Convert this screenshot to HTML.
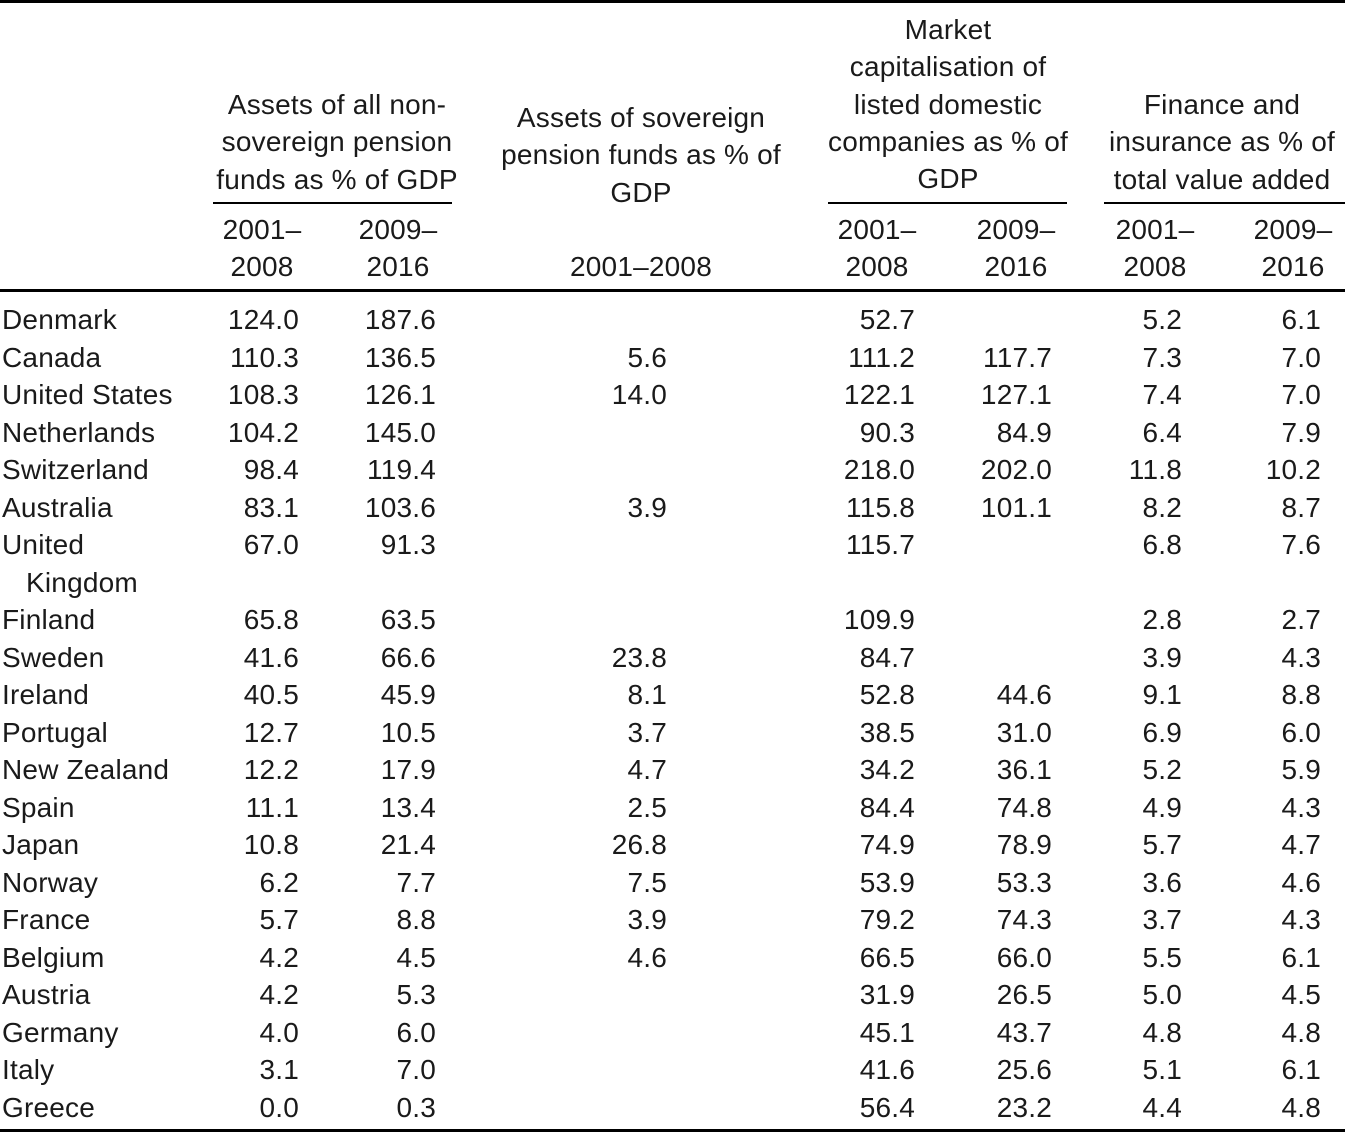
<!DOCTYPE html>
<html><head><meta charset="utf-8"><style>
body{margin:0;width:1345px;height:1134px;background:#fff;position:relative;overflow:hidden;font-family:"Liberation Sans",sans-serif;font-size:28px;letter-spacing:0.2px;color:#1a1a1a}
.l{position:absolute;background:#000}
.c{position:absolute;text-align:center;line-height:37.3px;white-space:nowrap}
.r{position:absolute;left:0;width:1345px;height:36px}
.r div{position:absolute;top:0;line-height:36px;white-space:nowrap}
.a{left:2px}
.b{right:1046px}.d{right:909px}.e{right:678px}.f{right:430px}.g{right:293px}.h{right:163px}.i{right:24px}
</style></head><body>
<div class="l" style="left:0;top:0;width:1345px;height:3px"></div>
<div class="l" style="left:0;top:289px;width:1345px;height:3px"></div>
<div class="l" style="left:0;top:1129px;width:1345px;height:3px"></div>
<div class="l" style="left:213px;top:202px;width:239px;height:2px"></div>
<div class="l" style="left:828px;top:202px;width:239px;height:2px"></div>
<div class="l" style="left:1104px;top:202px;width:241px;height:2px"></div>

<div class="c" style="left:187px;width:300px;top:86px">Assets of all non-<br>sovereign pension<br>funds as % of GDP</div>
<div class="c" style="left:471px;width:340px;top:99px">Assets of sovereign<br>pension funds as % of<br>GDP</div>
<div class="c" style="left:798px;width:300px;top:11px">Market<br>capitalisation of<br>listed domestic<br>companies as % of<br>GDP</div>
<div class="c" style="left:1072px;width:300px;top:86px">Finance and<br>insurance as % of<br>total value added</div>

<div class="c" style="left:162px;width:200px;top:211px">2001–<br>2008</div>
<div class="c" style="left:298px;width:200px;top:211px">2009–<br>2016</div>
<div class="c" style="left:541px;width:200px;top:248px">2001–2008</div>
<div class="c" style="left:777px;width:200px;top:211px">2001–<br>2008</div>
<div class="c" style="left:916px;width:200px;top:211px">2009–<br>2016</div>
<div class="c" style="left:1055px;width:200px;top:211px">2001–<br>2008</div>
<div class="c" style="left:1193px;width:200px;top:211px">2009–<br>2016</div>

<div class="r" style="top:302px"><div class="a">Denmark</div><div class="b">124.0</div><div class="d">187.6</div><div class="f">52.7</div><div class="h">5.2</div><div class="i">6.1</div></div>
<div class="r" style="top:340px"><div class="a">Canada</div><div class="b">110.3</div><div class="d">136.5</div><div class="e">5.6</div><div class="f">111.2</div><div class="g">117.7</div><div class="h">7.3</div><div class="i">7.0</div></div>
<div class="r" style="top:377px"><div class="a">United States</div><div class="b">108.3</div><div class="d">126.1</div><div class="e">14.0</div><div class="f">122.1</div><div class="g">127.1</div><div class="h">7.4</div><div class="i">7.0</div></div>
<div class="r" style="top:415px"><div class="a">Netherlands</div><div class="b">104.2</div><div class="d">145.0</div><div class="f">90.3</div><div class="g">84.9</div><div class="h">6.4</div><div class="i">7.9</div></div>
<div class="r" style="top:452px"><div class="a">Switzerland</div><div class="b">98.4</div><div class="d">119.4</div><div class="f">218.0</div><div class="g">202.0</div><div class="h">11.8</div><div class="i">10.2</div></div>
<div class="r" style="top:490px"><div class="a">Australia</div><div class="b">83.1</div><div class="d">103.6</div><div class="e">3.9</div><div class="f">115.8</div><div class="g">101.1</div><div class="h">8.2</div><div class="i">8.7</div></div>
<div class="r" style="top:527px"><div class="a">United</div><div class="b">67.0</div><div class="d">91.3</div><div class="f">115.7</div><div class="h">6.8</div><div class="i">7.6</div></div>
<div class="r" style="top:565px"><div style="left:26px">Kingdom</div></div>
<div class="r" style="top:602px"><div class="a">Finland</div><div class="b">65.8</div><div class="d">63.5</div><div class="f">109.9</div><div class="h">2.8</div><div class="i">2.7</div></div>
<div class="r" style="top:640px"><div class="a">Sweden</div><div class="b">41.6</div><div class="d">66.6</div><div class="e">23.8</div><div class="f">84.7</div><div class="h">3.9</div><div class="i">4.3</div></div>
<div class="r" style="top:677px"><div class="a">Ireland</div><div class="b">40.5</div><div class="d">45.9</div><div class="e">8.1</div><div class="f">52.8</div><div class="g">44.6</div><div class="h">9.1</div><div class="i">8.8</div></div>
<div class="r" style="top:715px"><div class="a">Portugal</div><div class="b">12.7</div><div class="d">10.5</div><div class="e">3.7</div><div class="f">38.5</div><div class="g">31.0</div><div class="h">6.9</div><div class="i">6.0</div></div>
<div class="r" style="top:752px"><div class="a">New Zealand</div><div class="b">12.2</div><div class="d">17.9</div><div class="e">4.7</div><div class="f">34.2</div><div class="g">36.1</div><div class="h">5.2</div><div class="i">5.9</div></div>
<div class="r" style="top:790px"><div class="a">Spain</div><div class="b">11.1</div><div class="d">13.4</div><div class="e">2.5</div><div class="f">84.4</div><div class="g">74.8</div><div class="h">4.9</div><div class="i">4.3</div></div>
<div class="r" style="top:827px"><div class="a">Japan</div><div class="b">10.8</div><div class="d">21.4</div><div class="e">26.8</div><div class="f">74.9</div><div class="g">78.9</div><div class="h">5.7</div><div class="i">4.7</div></div>
<div class="r" style="top:865px"><div class="a">Norway</div><div class="b">6.2</div><div class="d">7.7</div><div class="e">7.5</div><div class="f">53.9</div><div class="g">53.3</div><div class="h">3.6</div><div class="i">4.6</div></div>
<div class="r" style="top:902px"><div class="a">France</div><div class="b">5.7</div><div class="d">8.8</div><div class="e">3.9</div><div class="f">79.2</div><div class="g">74.3</div><div class="h">3.7</div><div class="i">4.3</div></div>
<div class="r" style="top:940px"><div class="a">Belgium</div><div class="b">4.2</div><div class="d">4.5</div><div class="e">4.6</div><div class="f">66.5</div><div class="g">66.0</div><div class="h">5.5</div><div class="i">6.1</div></div>
<div class="r" style="top:977px"><div class="a">Austria</div><div class="b">4.2</div><div class="d">5.3</div><div class="f">31.9</div><div class="g">26.5</div><div class="h">5.0</div><div class="i">4.5</div></div>
<div class="r" style="top:1015px"><div class="a">Germany</div><div class="b">4.0</div><div class="d">6.0</div><div class="f">45.1</div><div class="g">43.7</div><div class="h">4.8</div><div class="i">4.8</div></div>
<div class="r" style="top:1052px"><div class="a">Italy</div><div class="b">3.1</div><div class="d">7.0</div><div class="f">41.6</div><div class="g">25.6</div><div class="h">5.1</div><div class="i">6.1</div></div>
<div class="r" style="top:1090px"><div class="a">Greece</div><div class="b">0.0</div><div class="d">0.3</div><div class="f">56.4</div><div class="g">23.2</div><div class="h">4.4</div><div class="i">4.8</div></div>
</body></html>
